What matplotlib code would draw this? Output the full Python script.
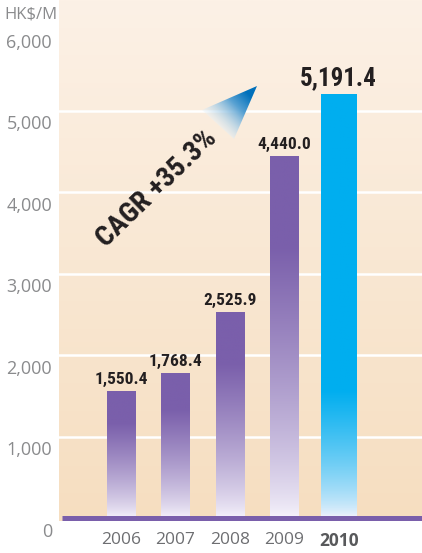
"""
Bar chart: revenue 2006-2010 (HK$/M) with CAGR annotation.
"""

import matplotlib
matplotlib.use("Agg")
import matplotlib.pyplot as plt
import matplotlib.transforms as mtransforms
import numpy as np
from matplotlib.colors import to_rgb
from matplotlib.patches import Polygon

# --- Data ---
YEARS = ["2006", "2007", "2008", "2009", "2010"]
VALUES = [1550.4, 1768.4, 2525.9, 4440.0, 5191.4]
VALUE_LABELS = ["1,550.4", "1,768.4", "2,525.9", "4,440.0", "5,191.4"]
Y_TICKS = [0, 1000, 2000, 3000, 4000, 5000, 6000]
Y_TICK_LABELS = ["0", "1,000", "2,000", "3,000", "4,000", "5,000", "6,000"]
GRID_LINES = [1000, 2000, 3000, 4000, 5000]
UNIT = "HK$/M"
CAGR_TEXT = "CAGR +35.3%"

# --- Style ---
PURPLE = "#7a5fab"
CYAN = "#00aeef"
ARROW_BLUE = "#0070bb"
BG_TOP = "#fcf1e6"
BG_BOTTOM = "#f6dec0"
TICK_GREY = "#8a8b8d"
DARK = "#231f20"
BOLD_FONT = ["Roboto Condensed", "DejaVu Sans"]
LIGHT_FONT = ["Open Sans", "DejaVu Sans"]


def gradient_rgba(color, n, solid_frac, gamma):
    """Column of colours: white at bottom, `color` from solid_frac upward."""
    t = np.linspace(0, 1, n)  # 0 bottom, 1 top
    w = np.clip(t / solid_frac, 0, 1) ** gamma
    c = np.array(to_rgb(color))
    rgb = (1 - w)[:, None] * np.array([0.97, 0.96, 0.99]) + w[:, None] * c
    rgba = np.ones((n, 1, 4))
    rgba[:, 0, :3] = rgb
    return rgba[::-1]  # imshow row 0 at top


fig = plt.figure(figsize=(4.22, 5.53), dpi=100)
ax = fig.add_axes([59 / 422, 32 / 553, 363 / 422, 521 / 553])

xmin, xmax = -1.14, 5.53
ymin, ymax = -31, 6362
ax.set_xlim(xmin, xmax)
ax.set_ylim(ymin, ymax)

# background gradient
bg = np.linspace(0, 1, 256)[:, None]
bg_rgb = (1 - bg)[:, :, None] * np.array(to_rgb(BG_TOP)) + bg[:, :, None] * np.array(to_rgb(BG_BOTTOM))
ax.imshow(bg_rgb, extent=(0, 1, 0, 1), transform=ax.transAxes, aspect="auto", zorder=0)

for g in GRID_LINES:
    ax.axhline(g, color="white", lw=1.8, zorder=1)

# bars
x = np.arange(len(YEARS))
for i, (xi, v) in enumerate(zip(x, VALUES)):
    last = i == len(YEARS) - 1
    w = 0.645 if last else 0.515
    if last:
        img = gradient_rgba(CYAN, 300, 0.30, 0.7)
    else:
        img = gradient_rgba(PURPLE, 300, 0.75, 0.75)
    ax.imshow(img, extent=(xi - w / 2, xi + w / 2, 0, v), aspect="auto", zorder=2)
    ax.text(xi, v, VALUE_LABELS[i], ha="center", va="bottom",
            fontsize=18 if last else 12.5, fontweight="bold", fontstretch="condensed",
            color=DARK, family=BOLD_FONT, zorder=4,
            transform=ax.transData + mtransforms.ScaledTranslation(0, 3.5 / 72, fig.dpi_scale_trans))

ax.set_xlim(xmin, xmax)
ax.set_ylim(ymin, ymax)

# baseline
ax.axhline(0, xmin=0.008, xmax=1, color=PURPLE, lw=3.6, zorder=3, solid_capstyle="butt")

# axes cosmetics
for s in ax.spines.values():
    s.set_visible(False)
ax.set_xticks(x)
ax.set_xticklabels(YEARS)
ax.tick_params(axis="x", length=0, pad=8, labelsize=12.5, labelcolor="#6d6e71")
for lab in ax.get_xticklabels():
    lab.set_family(LIGHT_FONT)
ax.get_xticklabels()[-1].set_fontweight("bold")
ax.get_xticklabels()[-1].set_color("#58595b")

ax.set_yticks(Y_TICKS)
ax.set_yticklabels(Y_TICK_LABELS)
ax.tick_params(axis="y", length=0, pad=5, labelsize=13, labelcolor=TICK_GREY)
offset = mtransforms.ScaledTranslation(0, -8 / 72, fig.dpi_scale_trans)
for lab in ax.get_yticklabels():
    lab.set_family(LIGHT_FONT)
    lab.set_transform(lab.get_transform() + offset)

fig.text(58 / 422, 1 - 15 / 553, UNIT, ha="right", va="center", fontsize=12,
         color=TICK_GREY, family=LIGHT_FONT)

# CAGR text
ax.text(0.27, 0.638, CAGR_TEXT, transform=ax.transAxes, rotation=44,
        ha="center", va="center", fontsize=20.5, fontweight="bold",
        fontstretch="condensed", color=DARK, family=BOLD_FONT, zorder=5)

# gradient arrow head (triangle), in pixel coords of the figure
tri_px = np.array([[257, 86], [202, 110], [234, 139]], dtype=float)
tri_ax = np.column_stack([(tri_px[:, 0] - 59) / 363, 1 - tri_px[:, 1] / 521])
tri = Polygon(tri_ax, closed=True, transform=ax.transAxes, facecolor="none", edgecolor="none")
ax.add_patch(tri)
gx0, gx1 = tri_ax[:, 0].min(), tri_ax[:, 0].max()
gy0, gy1 = tri_ax[:, 1].min(), tri_ax[:, 1].max()
nx_, ny_ = 80, 80
px = np.linspace(gx0, gx1, nx_) * 363
py = np.linspace(gy1, gy0, ny_) * 521
PX, PY = np.meshgrid(px, py)
start = np.array([(214 - 59), 521 - 128])
tip = np.array([(248 - 59), 521 - 94])
d = tip - start
t = ((PX - start[0]) * d[0] + (PY - start[1]) * d[1]) / (d @ d)
t = np.clip(t, 0, 1)
blue = np.array(to_rgb(ARROW_BLUE))
arr = np.ones((ny_, nx_, 4))
arr[..., :3] = (1 - t)[..., None] * np.array([1, 1, 1]) + t[..., None] * blue
arr[..., 3] = np.clip(0.35 + t, 0, 1)
im = ax.imshow(arr, extent=(gx0, gx1, gy0, gy1), transform=ax.transAxes,
               aspect="auto", zorder=5, interpolation="bilinear")
im.set_clip_path(tri)

ax.set_xlim(xmin, xmax)
ax.set_ylim(ymin, ymax)

fig.savefig("out.png", dpi=100)
